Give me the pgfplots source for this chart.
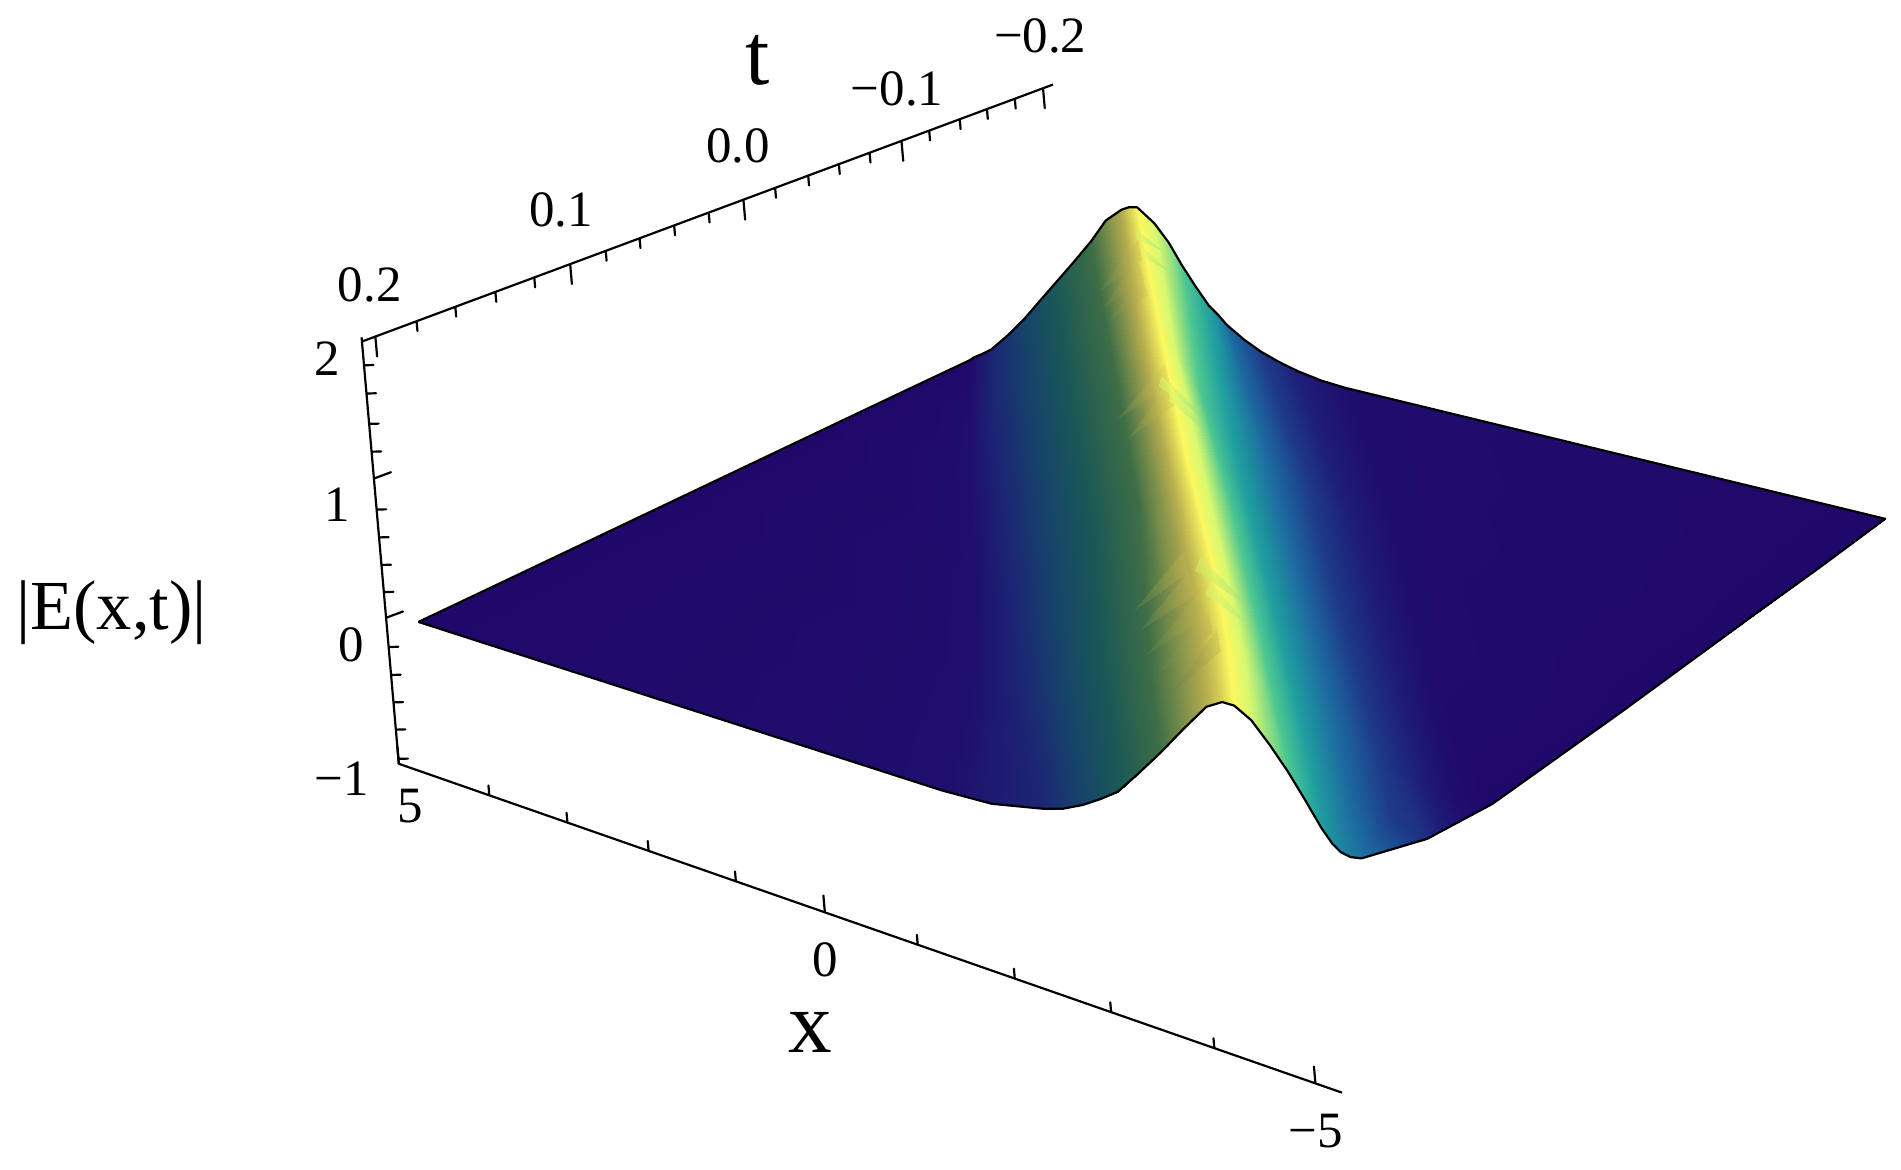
\documentclass[border=0pt]{standalone}
\usepackage{fontspec}
\setmainfont{Liberation Serif}
\usepackage{pgfplots}
\usepackage{pgfplotstable}
\pgfplotsset{compat=1.18}
\pgfplotstableread{
x t z m
5.07 0.2 0.203 0
-0.568 0.2 -0.113 1
-1.103 0.2 -0.124 1.5
-1.651 0.2 -0.074 2
-1.873 0.2 -0.039 2.5
-2.082 0.2 0.019 3
-2.278 0.2 0.092 3.5
-2.461 0.2 0.171 4
-2.696 0.2 0.344 4.5
-2.918 0.2 0.515 5
-3.166 0.2 0.721 5.5
-3.414 0.2 0.917 6
-3.584 0.2 0.977 6.5
-3.714 0.2 0.972 7
-3.897 0.2 0.898 8
-4.093 0.2 0.757 8.5
-4.289 0.2 0.599 9
-4.471 0.2 0.431 9.5
-4.654 0.2 0.254 10
-4.772 0.2 0.161 10.3
-4.863 0.2 0.116 10.5
-4.967 0.2 0.098 10.7
-5.059 0.2 0.103 10.8
-5.065 0.2 0.104 10.8
-5.072 0.2 0.105 10.8
-5.075 0.2 0.105 10.8
-5.078 0.2 0.106 10.8
-5.085 0.2 0.107 10.8
5.052 0.15 0.152 0
-0.013 0.15 -0.102 1
-0.418 0.15 -0.11 1.5
-0.822 0.15 -0.081 2
-1.038 0.15 -0.024 2.5
-1.253 0.15 0.034 3
-1.469 0.15 0.125 3.5
-1.684 0.15 0.215 4
-1.893 0.15 0.385 4.5
-2.102 0.15 0.555 5
-2.363 0.15 0.76 5.5
-2.624 0.15 0.948 6
-2.768 0.15 1.005 6.5
-2.911 0.15 1.003 7
-3.094 0.15 0.927 8
-3.264 0.15 0.788 8.5
-3.433 0.15 0.628 9
-3.616 0.15 0.463 9.5
-3.799 0.15 0.298 10
-3.995 0.15 0.24 10.5
-4.191 0.15 0.223 11
-4.439 0.15 0.129 11.5
-4.687 0.15 0.035 12
-4.83 0.15 0.006 12.1
-4.974 0.15 -0.023 12.2
-5.006 0.15 -0.027 12.3
-5.039 0.15 -0.030 12.4
-5.065 0.15 -0.043 12.5
5.033 0.1 0.102 0
0.581 0.1 -0.097 1
0.3 0.1 -0.11 1.5
0.020 0.1 -0.091 2
-0.202 0.1 -0.02 2.5
-0.424 0.1 0.050 3
-0.64 0.1 0.15 3.5
-0.855 0.1 0.249 4
-1.09 0.1 0.425 4.5
-1.325 0.1 0.602 5
-1.56 0.1 0.798 5.5
-1.795 0.1 0.974 6
-1.932 0.1 1.025 6.5
-2.069 0.1 1.027 7
-2.239 0.1 0.949 8
-2.402 0.1 0.81 8.5
-2.565 0.1 0.655 9
-2.735 0.1 0.495 9.5
-2.905 0.1 0.336 10
-3.12 0.1 0.28 10.5
-3.335 0.1 0.240 11
-3.584 0.1 0.135 11.5
-3.832 0.1 0.029 12
-4.054 0.1 -0.018 12.5
-4.275 0.1 -0.065 13
-4.439 0.1 -0.07 13.5
-4.602 0.1 -0.074 14
-5.046 0.1 -0.083 15
5.000 0 0.000 0
1.991 0 -0.120 1
1.782 0 -0.115 1.5
1.573 0 -0.089 2
1.358 0 0.004 2.5
1.142 0 0.097 3
0.92 0 0.217 3.5
0.698 0 0.336 4
0.463 0 0.515 4.5
0.228 0 0.695 5
0.072 0 0.866 5.5
-0.085 0 1.017 6
-0.19 0 1.06 6.5
-0.294 0 1.062 7
-0.477 0 0.984 8
-0.64 0 0.85 8.5
-0.803 0 0.705 9
-0.966 0 0.56 9.5
-1.129 0 0.414 10
-1.332 0 0.368 10.5
-1.534 0 0.323 11
-1.743 0 0.259 11.5
-1.952 0 0.195 12
-2.18 0 0.128 12.5
-2.409 0 0.061 13
-2.618 0 0.055 13.5
-2.826 0 0.048 14
-5.007 0 0.001 15
4.967 -0.1 -0.102 0
3.505 -0.1 -0.160 1
3.329 -0.1 -0.127 1.5
3.153 -0.1 -0.093 2
2.944 -0.1 0.022 2.5
2.735 -0.1 0.138 3
2.552 -0.1 0.271 3.5
2.369 -0.1 0.404 4
2.148 -0.1 0.585 4.5
1.926 -0.1 0.766 5
1.789 -0.1 0.93 5.5
1.651 -0.1 1.056 6
1.54 -0.1 1.1 6.5
1.430 -0.1 1.105 7
1.286 -0.1 1.019 8
1.142 -0.1 0.89 8.5
0.999 -0.1 0.749 9
0.836 -0.1 0.618 9.5
0.672 -0.1 0.487 10
0.476 -0.1 0.445 10.5
0.281 -0.1 0.403 11
0.052 -0.1 0.32 11.5
-0.176 -0.1 0.241 12
-0.385 -0.1 0.175 12.5
-0.594 -0.1 0.109 13
-0.829 -0.1 0.108 13.5
-1.064 -0.1 0.113 14
-4.967 -0.1 0.102 15
4.948 -0.15 -0.152 0
4.217 -0.15 -0.172 1
4.08 -0.15 -0.133 1.5
3.943 -0.15 -0.094 2
3.747 -0.15 0.032 2.5
3.551 -0.15 0.157 3
3.368 -0.15 0.3 3.5
3.185 -0.15 0.442 4
2.983 -0.15 0.621 4.5
2.781 -0.15 0.800 5
2.63 -0.15 0.965 5.5
2.480 -0.15 1.082 6
2.382 -0.15 1.12 6.5
2.285 -0.15 1.128 7
2.115 -0.15 1.044 8
1.972 -0.15 0.925 8.5
1.828 -0.15 0.783 9
1.678 -0.15 0.658 9.5
1.527 -0.15 0.532 10
1.377 -0.15 0.485 10.5
1.227 -0.15 0.437 11
1.018 -0.15 0.35 11.5
0.809 -0.15 0.266 12
0.6 -0.15 0.213 12.5
0.392 -0.15 0.160 13
0.144 -0.15 0.16 13.5
-0.104 -0.15 0.159 14
-4.948 -0.15 0.148 15
4.928 -0.2 -0.203 0
4.889 -0.2 -0.179 1
4.798 -0.2 -0.140 1.5
4.693 -0.2 -0.089 2
4.510 -0.2 0.042 2.5
4.341 -0.2 0.179 3
4.184 -0.2 0.323 3.5
4.014 -0.2 0.477 4
3.819 -0.2 0.653 4.5
3.623 -0.2 0.837 5
3.466 -0.2 1.007 5.5
3.296 -0.2 1.110 6
3.218 -0.2 1.139 6.5
3.127 -0.2 1.153 7
2.944 -0.2 1.070 8
2.787 -0.2 0.957 8.5
2.644 -0.2 0.818 9
2.500 -0.2 0.694 9.5
2.356 -0.2 0.580 10
2.252 -0.2 0.528 10.5
2.161 -0.2 0.473 11
1.978 -0.2 0.399 11.5
1.795 -0.2 0.342 12
1.599 -0.2 0.299 12.5
1.403 -0.2 0.266 13
1.142 -0.2 0.238 13.5
0.881 -0.2 0.227 14
-4.928 -0.2 0.203 15
}\surfacedata
\pgfplotsset{refcolors/.style={
  colormap={refmap}{
    rgb255=(32,8,106) rgb255=(31,14,109) rgb255=(28,38,116) rgb255=(22,68,106)
    rgb255=(26,88,86) rgb255=(62,110,70) rgb255=(180,172,78) rgb255=(252,248,96)
    rgb255=(216,248,112) rgb255=(80,200,144) rgb255=(32,160,160) rgb255=(28,106,160)
    rgb255=(30,58,136) rgb255=(30,30,120) rgb255=(31,13,109) rgb255=(32,8,106)},
  point meta min=0, point meta max=15}}
\begin{document}
\begin{tikzpicture}
% axis lines and ticks
\begin{axis}[hide axis, clip=false, at={(486.11pt,210.75pt)}, anchor=origin,
  x={(-37.8pt,13.18pt)}, y={(-688.375pt,-256pt)}, z={(-5.065pt,57.95pt)},
  xmin=-5.3, xmax=5, ymin=-0.21, ymax=0.21, zmin=-1, zmax=2.1]
% x axis with ticks
\addplot3[black, line width=0.9pt, line join=round, no marks] coordinates {
(5,0.2,-1)(5,0.2,-0.88)(5,0.2,-1)
(4.013,0.2,-1)(4.013,0.2,-0.93)(4.013,0.2,-1)
(3.161,0.2,-1)(3.161,0.2,-0.93)(3.161,0.2,-1)
(2.275,0.2,-1)(2.275,0.2,-0.93)(2.275,0.2,-1)
(1.323,0.2,-1)(1.323,0.2,-0.93)(1.323,0.2,-1)
(0.352,0.2,-1)(0.352,0.2,-0.88)(0.352,0.2,-1)
(-0.661,0.2,-1)(-0.661,0.2,-0.93)(-0.661,0.2,-1)
(-1.720,0.2,-1)(-1.720,0.2,-0.93)(-1.720,0.2,-1)
(-2.771,0.2,-1)(-2.771,0.2,-0.93)(-2.771,0.2,-1)
(-3.897,0.2,-1)(-3.897,0.2,-0.93)(-3.897,0.2,-1)
(-5,0.2,-1)(-5,0.2,-0.88)(-5,0.2,-1)
(-5.29,0.2,-1)
};
% t axis with ticks
\addplot3[black, line width=0.9pt, line join=round, no marks] coordinates {
(4.844,0.208,2.076)
(4.844,0.2,2.076)(4.844,0.2,1.934)(4.844,0.2,2.076)
(4.844,0.1753,2.076)(4.844,0.1753,2.006)(4.844,0.1753,2.076)
(4.844,0.1521,2.076)(4.844,0.1521,2.006)(4.844,0.1521,2.076)
(4.844,0.1281,2.076)(4.844,0.1281,2.006)(4.844,0.1281,2.076)
(4.844,0.1048,2.076)(4.844,0.1048,2.006)(4.844,0.1048,2.076)
(4.844,0.0833,2.076)(4.844,0.0833,1.934)(4.844,0.0833,2.076)
(4.844,0.0620,2.076)(4.844,0.0620,2.006)(4.844,0.0620,2.076)
(4.844,0.0417,2.076)(4.844,0.0417,2.006)(4.844,0.0417,2.076)
(4.844,0.0210,2.076)(4.844,0.0210,2.006)(4.844,0.0210,2.076)
(4.844,0.0003,2.076)(4.844,0.0003,2.006)(4.844,0.0003,2.076)
(4.844,-0.0205,2.076)(4.844,-0.0205,1.934)(4.844,-0.0205,2.076)
(4.844,-0.0395,2.076)(4.844,-0.0395,2.006)(4.844,-0.0395,2.076)
(4.844,-0.0593,2.076)(4.844,-0.0593,2.006)(4.844,-0.0593,2.076)
(4.844,-0.0777,2.076)(4.844,-0.0777,2.006)(4.844,-0.0777,2.076)
(4.844,-0.0961,2.076)(4.844,-0.0961,2.006)(4.844,-0.0961,2.076)
(4.844,-0.1152,2.076)(4.844,-0.1152,1.934)(4.844,-0.1152,2.076)
(4.844,-0.1318,2.076)(4.844,-0.1318,2.006)(4.844,-0.1318,2.076)
(4.844,-0.1501,2.076)(4.844,-0.1501,2.006)(4.844,-0.1501,2.076)
(4.844,-0.1664,2.076)(4.844,-0.1664,2.006)(4.844,-0.1664,2.076)
(4.844,-0.1831,2.076)(4.844,-0.1831,2.006)(4.844,-0.1831,2.076)
(4.844,-0.2,2.076)(4.844,-0.2,1.934)(4.844,-0.2,2.076)
(4.844,-0.206,2.076)
};
% z axis with ticks
\addplot3[black, line width=0.9pt, line join=round, no marks] coordinates {
(5,0.2,-1)
(5,0.2,-0.965)(4.95,0.197,-0.965)(5,0.2,-0.965)
(5,0.2,-0.757)(4.95,0.197,-0.757)(5,0.2,-0.757)
(5,0.2,-0.563)(4.95,0.197,-0.563)(5,0.2,-0.563)
(5,0.2,-0.368)(4.95,0.197,-0.368)(5,0.2,-0.368)
(5,0.2,-0.169)(4.95,0.197,-0.169)(5,0.2,-0.169)
(5,0.2,0.039)(5,0.1898,0.039)(5,0.2,0.039)
(5,0.2,0.222)(4.95,0.197,0.222)(5,0.2,0.222)
(5,0.2,0.415)(4.95,0.197,0.415)(5,0.2,0.415)
(5,0.2,0.611)(4.95,0.197,0.611)(5,0.2,0.611)
(5,0.2,0.809)(4.95,0.197,0.809)(5,0.2,0.809)
(5,0.2,1.030)(5,0.1898,1.030)(5,0.2,1.030)
(5,0.2,1.221)(4.95,0.197,1.221)(5,0.2,1.221)
(5,0.2,1.419)(4.95,0.197,1.419)(5,0.2,1.419)
(5,0.2,1.635)(4.95,0.197,1.635)(5,0.2,1.635)
(5,0.2,1.836)(4.95,0.197,1.836)(5,0.2,1.836)
(5,0.2,2.035)
};
\end{axis}
% surface
\begin{axis}[hide axis, clip=false, at={(477.75pt,234.75pt)}, anchor=origin,
  x={(-38.3pt,9.05pt)}, y={(-555pt,-332.5pt)}, z={(0pt,58.5pt)},
  xmin=-5.1, xmax=5.1, ymin=-0.2, ymax=0.2, zmin=-1, zmax=2, refcolors]
\addplot3[surf, shader=interp, mesh/rows=7, mesh/cols=28, point meta=explicit]
  table[x=x, y=t, z=z, meta=m] {\surfacedata};
\end{axis}
% mesh-shading streaks beside the crest, in the picture's own frame
\begin{axis}[hide axis, clip=false, at={(0pt,482.5pt)}, anchor=origin,
  x={(0.5pt,0pt)}, y={(0pt,-0.5pt)}, xmin=0, xmax=1568, ymin=0, ymax=965, refcolors]
\addplot[patch, patch type=triangle, shader=interp, point meta=explicit, opacity=0.4]
  table[x=X, y=Y, meta=m] {
X Y m
968 569 5.3
1003 520 6.2
1006 537 6.2
955 554 5.3
996 506 6.2
1000 522 6.2
947 539 5.3
988 490 6.2
994 508 6.2
940 520 5.3
980 472 6.2
986 490 6.2
935 503 5.3
975 456 6.2
980 472 6.2
907 239 5.3
938 198 6.3
941 214 6.3
910 253 5.3
938 214 6.3
943 230 6.3
915 264 5.3
941 228 6.3
946 243 6.3
932 360 5.5
965 316 6.5
970 332 6.5
921 346 5.3
960 300 6.5
964 316 6.5
990 460 8.0
986 470 8.0
1034 503 8.7
998 480 8.0
994 490 8.0
1028 514 8.4
936 189 8.0
938 197 8.0
957 205 8.7
941 203 8.0
943 212 8.0
962 222 8.6
958 310 8.0
956 318 8.0
995 346 8.7
966 320 8.0
964 330 8.0
992 354 8.5
};
\end{axis}
% outline of the surface
\begin{axis}[hide axis, clip=false, at={(477.75pt,234.75pt)}, anchor=origin,
  x={(-38.3pt,9.05pt)}, y={(-555pt,-332.5pt)}, z={(0pt,58.5pt)},
  xmin=-5.1, xmax=5.1, ymin=-0.2, ymax=0.2, zmin=-1, zmax=2]
\addplot3[black, line width=0.9pt, line join=round, no marks] coordinates {
(5.07,0.2,0.203)(-0.568,0.2,-0.113)(-1.103,0.2,-0.124)(-1.651,0.2,-0.074)
(-1.873,0.2,-0.039)(-2.082,0.2,0.019)(-2.278,0.2,0.092)(-2.461,0.2,0.171)
(-2.696,0.2,0.344)(-2.918,0.2,0.515)(-3.166,0.2,0.721)(-3.414,0.2,0.917)
(-3.584,0.2,0.977)(-3.714,0.2,0.972)(-3.897,0.2,0.898)(-4.093,0.2,0.757)
(-4.289,0.2,0.599)(-4.471,0.2,0.431)(-4.654,0.2,0.254)(-4.772,0.2,0.161)
(-4.863,0.2,0.116)(-4.967,0.2,0.098)(-5.085,0.2,0.107)
(-5.065,0.15,-0.043)(-5.046,0.1,-0.083)(-5.007,0,0.001)(-4.967,-0.1,0.102)
(-4.948,-0.15,0.148)(-4.928,-0.2,0.203)
(0.881,-0.2,0.227)(1.142,-0.2,0.238)(1.403,-0.2,0.266)(1.599,-0.2,0.299)
(1.795,-0.2,0.342)(1.978,-0.2,0.399)(2.161,-0.2,0.473)(2.252,-0.2,0.528)
(2.356,-0.2,0.580)(2.500,-0.2,0.694)(2.644,-0.2,0.818)(2.787,-0.2,0.957)
(2.944,-0.2,1.070)(3.127,-0.2,1.153)(3.218,-0.2,1.139)(3.296,-0.2,1.110)
(3.466,-0.2,1.007)(3.623,-0.2,0.837)(3.819,-0.2,0.653)(4.014,-0.2,0.477)
(4.184,-0.2,0.323)(4.341,-0.2,0.179)(4.510,-0.2,0.042)(4.693,-0.2,-0.089)
(4.798,-0.2,-0.140)(4.889,-0.2,-0.179)(4.928,-0.2,-0.203)
(4.948,-0.15,-0.152)(4.967,-0.1,-0.102)(5.000,0,0.000)(5.033,0.1,0.102)
(5.052,0.15,0.152)(5.07,0.2,0.203)
};
\end{axis}
% texts, placed in the reference's pixel frame
\begin{scope}[shift={(0pt,482.5pt)}, x=0.5pt, y=-0.5pt]
\def\tl#1{\fontsize{21}{25}\selectfont #1}
\node at (858,30) {\tl{−0.2}};
\node at (740,73) {\tl{−0.1}};
\node at (609,120) {\tl{0.0}};
\node at (463,173) {\tl{0.1}};
\node at (305,235) {\tl{0.2}};
\node at (270,296) {\tl{2}};
\node at (278,416) {\tl{1}};
\node at (290,532) {\tl{0}};
\node at (282,642) {\tl{−1}};
\node at (338,665) {\tl{5}};
\node at (681,792) {\tl{0}};
\node at (1085,933) {\tl{−5}};
\node at (625,50) {\fontsize{36}{40}\selectfont t};
\node at (668,852) {\fontsize{36}{40}\selectfont x};
\node at (92,505) {\fontsize{29}{32}\selectfont |E(x,t)|};
\end{scope}
\pgfresetboundingbox
\path[use as bounding box] (0pt,0pt) rectangle (784pt,482.5pt);
\end{tikzpicture}
\end{document}
